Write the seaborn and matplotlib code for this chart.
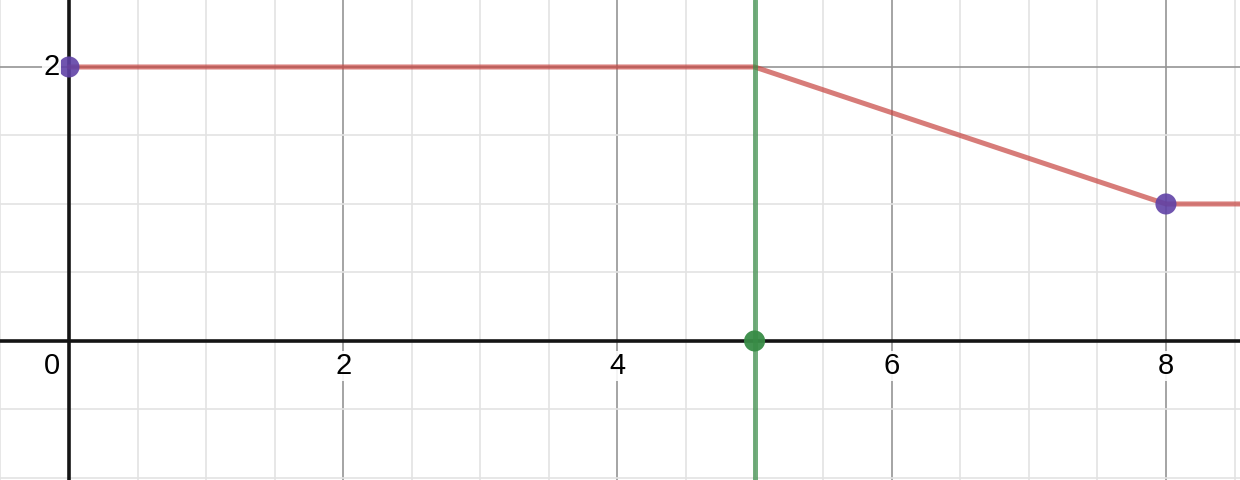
import matplotlib
matplotlib.use("Agg")
import matplotlib.pyplot as plt
import matplotlib.transforms as mtransforms
from matplotlib.ticker import MultipleLocator
import pandas as pd
import seaborn as sns

# dane wykresu
line_x = [0, 5, 8, 9]
line_y = [2, 2, 1, 1]
point_x = [0, 8]
point_y = [2, 1]
green_x = [5]
green_y = [0]
vline_x = 5
x_ticks = [0, 2, 4, 6, 8]
y_ticks = [2]

RED = "#c74440"
PURPLE = "#6042a6"
GREEN = "#388c46"

sns.set_theme(style="white")
plt.rcParams['font.family'] = ['Liberation Sans', 'DejaVu Sans']

fig = plt.figure(figsize=(12.4, 4.8), dpi=100)
ax = fig.add_axes([0, 0, 1, 1])
ax.set_xlim(-0.503, 8.54)
ax.set_ylim(-1.015, 2.489)

# siatka w stylu desmos
for axis in (ax.xaxis, ax.yaxis):
    axis.set_major_locator(MultipleLocator(2))
    axis.set_minor_locator(MultipleLocator(0.5))
ax.grid(which='minor', color='#e3e3e3', lw=1.2, zorder=0)
ax.grid(which='major', color='#959595', lw=1.2, zorder=0)
ax.set_axisbelow(True)
ax.tick_params(which='both', length=0, labelbottom=False, labelleft=False)
for s in ax.spines.values():
    s.set_visible(False)

ax.axhline(0, color='#141414', lw=2.6, zorder=1)
ax.axvline(0, color='#141414', lw=2.6, zorder=1)

# linia i punkty
df_line = pd.DataFrame({"x": line_x, "y": line_y})
sns.lineplot(data=df_line, x="x", y="y", ax=ax, color=RED, lw=3.6, alpha=0.7,
             sort=False, estimator=None, zorder=3)
ax.axvline(vline_x, color=GREEN, lw=3.6, alpha=0.7, zorder=4)

df_pts = pd.DataFrame({"x": point_x, "y": point_y})
sns.scatterplot(data=df_pts, x="x", y="y", ax=ax, color=PURPLE, s=230,
                edgecolor='none', alpha=0.9, zorder=5)
df_green = pd.DataFrame({"x": green_x, "y": green_y})
sns.scatterplot(data=df_green, x="x", y="y", ax=ax, color=GREEN, s=230,
                edgecolor='none', alpha=0.95, zorder=5)
ax.set_xlabel("")
ax.set_ylabel("")

# etykiety osi
box = dict(facecolor='white', edgecolor='none', pad=1.0, alpha=0.9)
for t in x_ticks:
    if t == 0:
        tr = mtransforms.offset_copy(ax.transData, fig=fig, x=-9, y=-25, units='dots')
        ax.text(t, 0, str(t), transform=tr, ha='right', va='center',
                fontsize=21, color='black', bbox=box, zorder=6)
    else:
        tr = mtransforms.offset_copy(ax.transData, fig=fig, x=0, y=-25, units='dots')
        ax.text(t, 0, str(t), transform=tr, ha='center', va='center',
                fontsize=21, color='black', bbox=box, zorder=6)
for t in y_ticks:
    tr = mtransforms.offset_copy(ax.transData, fig=fig, x=-9, y=0, units='dots')
    ax.text(0, t, str(t), transform=tr, ha='right', va='center',
            fontsize=21, color='black', bbox=box, zorder=6)

fig.savefig("out.png", dpi=100)
